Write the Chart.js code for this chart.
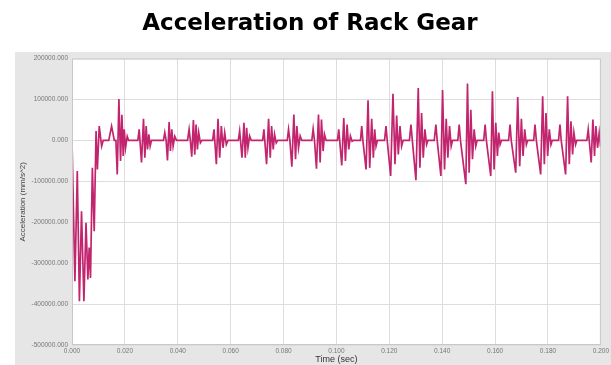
<!DOCTYPE html>
<html><head><meta charset="utf-8">
<script src="https://cdn.jsdelivr.net/npm/chart.js@4/dist/chart.umd.min.js"></script>
<style>html,body{margin:0;padding:0;background:#fff;}#wrap{width:611px;height:365px;}</style>
</head><body><div id="wrap"><canvas id="c" width="611" height="365"></canvas></div>
<script>
const chartTitle = "Acceleration of Rack Gear";
const xAxisTitle = "Time (sec)";
const yAxisTitle = "Acceleration (mm/s^2)";
const xTickValues = [0, 0.02, 0.04, 0.06, 0.08, 0.10, 0.12, 0.14, 0.16, 0.18, 0.20];
const yTickValues = [200000, 100000, 0, -100000, -200000, -300000, -400000, -500000];

// time (sec)
const time = [
 0.0000,0.0011,0.0020,0.0028,0.0036,0.0045,0.0053,0.0060,0.0065,0.0070,0.0077,0.0084,0.0091,0.0096,0.0103,0.0112,0.0118,
 0.0139,0.01497,0.0160,0.0166,0.01711,0.01774,0.01836,0.01887,0.01937,0.01975,0.02025,0.02088,0.0214,
 0.0249,0.02541,0.02629,0.02704,0.02755,0.02805,0.02855,0.02906,0.02956,0.03006,
 0.0346,0.03509,0.0356,0.03610,0.03673,0.03723,0.03774,0.03824,0.03887,0.03950,
 0.0437,0.04428,0.04475,0.04528,0.04591,0.04642,0.04692,0.04742,0.04792,0.04855,0.0491,
 0.0532,0.05371,0.05459,0.05522,0.05585,0.05648,0.05711,0.05774,0.05836,0.0590,
 0.0629,0.06340,0.06428,0.06503,0.06553,0.06604,0.06654,0.06717,0.06780,
 0.0721,0.07258,0.07358,0.07434,0.07497,0.07547,0.07610,0.07660,0.07723,0.0778,
 0.0814,0.08189,0.0824,0.08314,0.08390,0.08453,0.08503,0.08566,0.08629,0.08692,
 0.0907,0.09119,0.0917,0.09245,0.09321,0.09384,0.09434,0.09497,0.09547,0.09610,
 0.1004,0.10088,0.10201,0.10277,0.10340,0.10403,0.10465,0.10528,0.10591,0.1064,
 0.1091,0.10956,0.1100,0.11120,0.11195,0.11258,0.11333,0.11396,0.11447,0.11497,0.1155,
 0.1182,0.11874,0.1192,0.12050,0.12138,0.12214,0.12277,0.12340,0.12403,0.12465,0.1252,
 0.1276,0.12818,0.1287,0.13006,0.13094,0.13157,0.13220,0.13283,0.13346,0.13409,0.1346,
 0.1370,0.13761,0.1381,0.13950,0.14013,0.14088,0.14151,0.14214,0.14277,0.14340,0.1439,
 0.1459,0.14642,0.1469,0.14893,0.14956,0.15019,0.15082,0.15145,0.15208,0.15270,0.1532,
 0.1557,0.15623,0.1567,0.15836,0.15899,0.15962,0.16025,0.16088,0.16138,0.16189,0.1624,
 0.1651,0.16566,0.1661,0.16780,0.16855,0.16931,0.16994,0.17057,0.17119,0.17182,0.1723,
 0.1746,0.17509,0.1756,0.17723,0.17799,0.17862,0.17925,0.17987,0.18050,0.18113,0.1816,
 0.1840,0.18453,0.1850,0.18667,0.18742,0.18805,0.18868,0.18931,0.18981,0.19044,0.1909,
 0.1947,0.19522,0.19635,0.19698,0.19761,0.19811,0.19874,0.19937,0.19987,0.2000
];
// acceleration (mm/s^2)
const accel = [
 0,-344000,-75000,-393000,-173000,-393000,-201000,-340000,-262000,-336000,-67000,-222000,23000,-71000,35000,-14000,0,
 0,35000,0,0,-83000,101000,-50000,63000,-38000,27000,-18000,10000,0,
 0,27000,-54000,53000,-42000,35000,-22000,15000,-14000,0,
 0,19000,0,-49000,45000,-26000,27000,-14000,10000,0,
 0,27000,0,-40000,50000,-35000,39000,-22000,19000,-6000,0,
 0,27000,-58000,53000,-42000,35000,-18000,19000,-10000,0,
 0,23000,-42000,43000,-42000,31000,-18000,11000,0,
 0,27000,-58000,53000,-42000,35000,-22000,15000,-6000,0,
 0,27000,0,-64000,63000,-46000,35000,-18000,11000,0,
 0,28000,0,-69000,63000,-54000,51000,-26000,15000,0,
 0,27000,-61000,55000,-50000,39000,-22000,11000,-2000,0,
 0,35000,0,-71000,98000,-67000,53000,-42000,27000,-14000,0,
 0,35000,0,-87000,114000,-58000,61000,-34000,35000,-14000,0,
 0,39000,0,-97000,128000,-67000,67000,-42000,27000,-10000,0,
 0,39000,0,-87000,123000,-71000,53000,-42000,35000,-14000,0,
 0,39000,0,-107000,139000,-79000,75000,-46000,27000,-14000,0,
 0,39000,0,-87000,120000,-71000,43000,-38000,19000,-10000,0,
 0,39000,0,-79000,106000,-63000,53000,-38000,27000,-10000,0,
 0,39000,0,-83000,108000,-58000,67000,-38000,27000,-10000,0,
 0,39000,0,-83000,108000,-58000,47000,-34000,19000,-10000,0,
 0,27000,-54000,51000,-38000,35000,-18000,19000,-14000,-5000
];

const points = time.map((t, i) => ({x: t, y: accel[i]}));

const panelBg = {
  id: 'panelBg',
  beforeDraw(chart) {
    const {ctx, chartArea: a} = chart;
    ctx.save();
    ctx.fillStyle = '#ffffff';
    ctx.fillRect(0, 0, chart.width, chart.height);
    ctx.fillStyle = '#e6e6e6';
    ctx.fillRect(15, 52, chart.width - 15, chart.height - 52);
    ctx.fillStyle = '#ffffff';
    ctx.fillRect(a.left, a.top, a.right - a.left, a.bottom - a.top);
    ctx.restore();
  },
  afterDatasetsDraw(chart) {
    const {ctx, chartArea: a} = chart;
    ctx.save();
    ctx.strokeStyle = '#c8c8c8';
    ctx.lineWidth = 1;
    ctx.strokeRect(a.left + 0.5, a.top + 0.5, a.right - a.left - 1, a.bottom - a.top - 1);
    ctx.restore();
  }
};

new Chart(document.getElementById('c'), {
  type: 'line',
  data: { datasets: [{
    data: points,
    borderColor: '#c2246e',
    borderWidth: 1.7,
    pointRadius: 0,
    tension: 0,
    fill: false
  }]},
  options: {
    responsive: false,
    animation: false,
    devicePixelRatio: 1,
    layout: { padding: { left: 15, right: 6, top: 0, bottom: 0 } },
    plugins: {
      legend: { display: false },
      tooltip: { enabled: false },
      title: {
        display: true,
        text: chartTitle,
        color: '#000',
        font: { family: 'DejaVu Sans', weight: 'bold', size: 23 },
        padding: { top: 10, bottom: 21 }
      }
    },
    scales: {
      x: {
        type: 'linear',
        min: 0, max: 0.2,
        afterBuildTicks(axis) { axis.ticks = xTickValues.map(v => ({value: v})); },
        afterFit(axis) { axis.height = 20; },
        ticks: {
          callback: v => v.toFixed(3),
          font: { family: 'Liberation Sans', size: 6.5 },
          color: '#777',
          padding: 2,
          maxRotation: 0,
          autoSkip: false
        },
        grid: { color: '#dddddd', drawTicks: false },
        border: { display: false },
        title: { display: true, text: xAxisTitle, font: { family: 'Liberation Sans', size: 9 }, color: '#333', padding: 0 }
      },
      y: {
        type: 'linear',
        min: -500000, max: 200000,
        afterBuildTicks(axis) { axis.ticks = yTickValues.map(v => ({value: v})); },
        afterFit(axis) { axis.width = 57; },
        ticks: {
          callback: v => v.toFixed(3),
          font: { family: 'Liberation Sans', size: 6.5 },
          color: '#777',
          padding: 4,
          autoSkip: false
        },
        grid: { color: '#dddddd', drawTicks: false },
        border: { display: false },
        title: { display: true, text: yAxisTitle, font: { family: 'Liberation Sans', size: 8 }, color: '#444', padding: { top: 3, bottom: 0 } }
      }
    }
  },
  plugins: [panelBg]
});
</script></body></html>
